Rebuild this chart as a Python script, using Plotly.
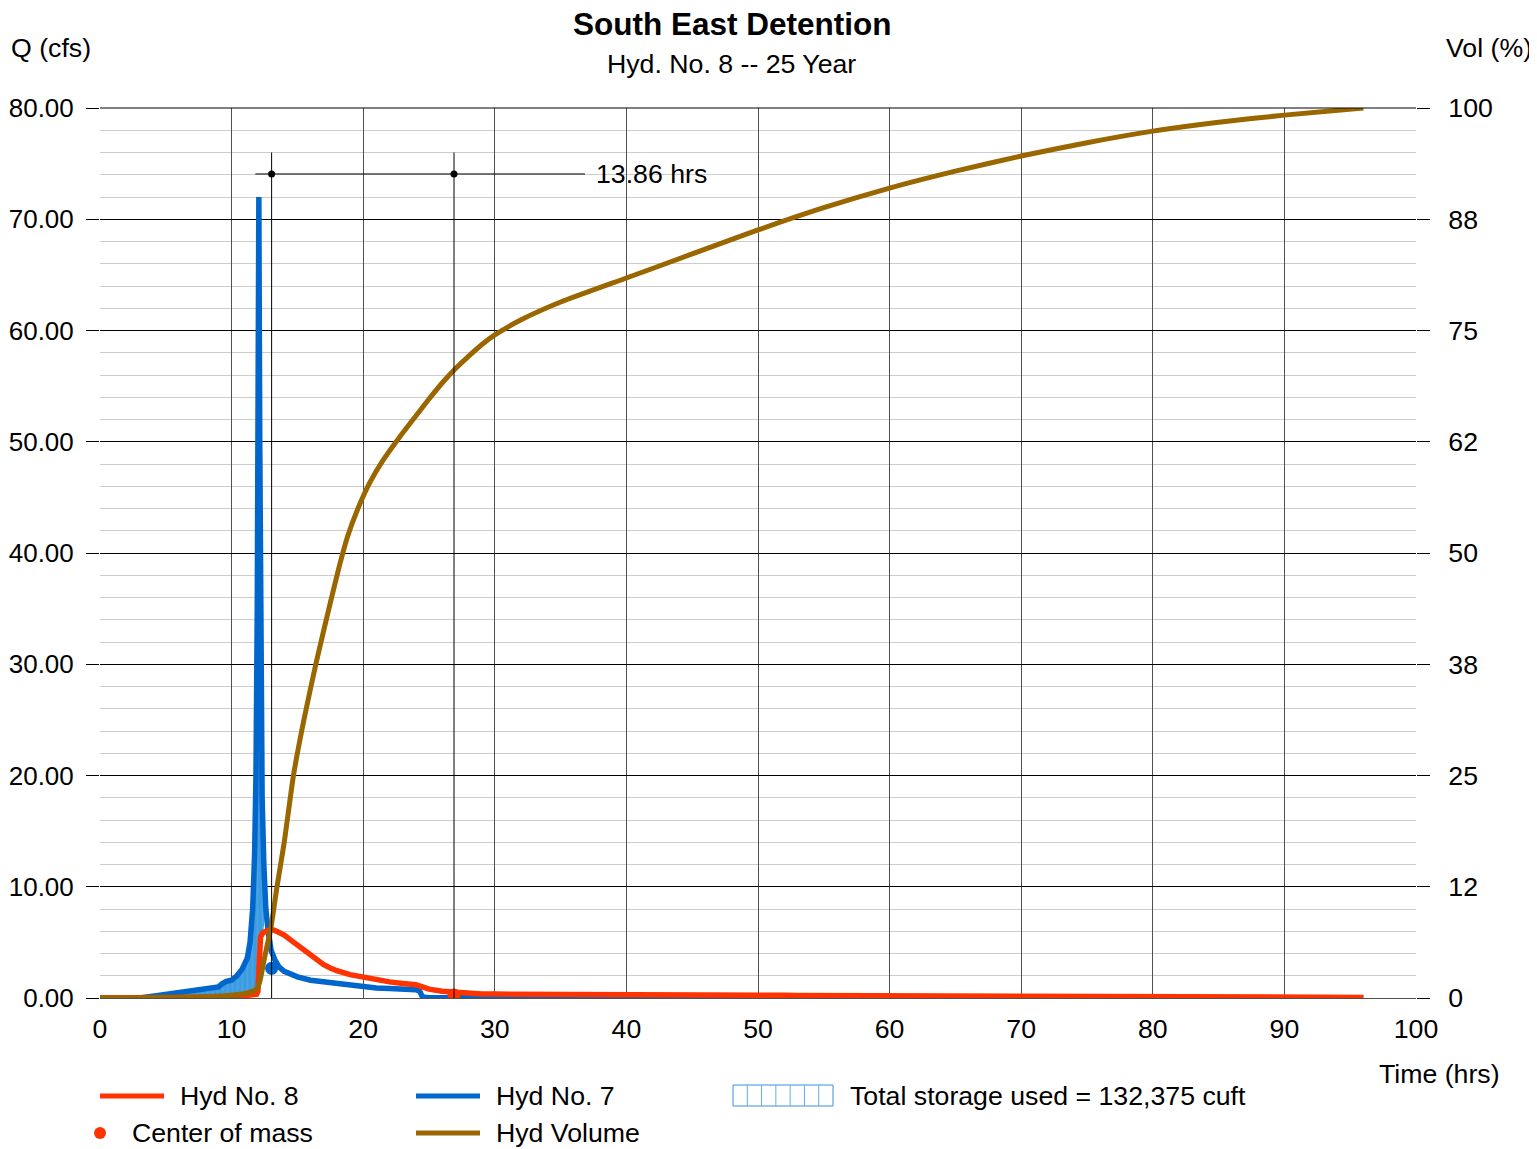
import plotly.graph_objects as go

# ---------------- data ----------------
hyd7_t = [0, 3, 4, 5, 6, 7, 8, 9, 9.3, 9.6, 10, 10.4, 10.8, 11.2, 11.4, 11.6, 11.75, 11.85, 11.95,
          12.07, 12.14, 12.22, 12.32, 12.45, 12.6, 12.8, 13.0, 13.3, 13.6, 14, 14.5, 15, 16, 17, 18,
          19, 20, 21, 22, 23, 24, 24.3, 24.5, 25, 96]
hyd7_q = [0, 0, 0.15, 0.3, 0.45, 0.6, 0.8, 1.0, 1.3, 1.5, 1.6, 2.0, 2.6, 3.6, 5.0, 8.0, 13.0, 20.0, 35.0,
          72.0, 50.0, 30.0, 18.0, 12.0, 8.0, 5.8, 4.3, 3.4, 2.8, 2.4, 2.1, 1.9, 1.6, 1.45, 1.3,
          1.15, 1.0, 0.9, 0.85, 0.8, 0.75, 0.6, 0.1, 0.03, 0.02]

hyd8_t = [0, 8, 10, 11, 11.9, 12.0, 12.1, 12.2, 12.4, 12.8, 13.0, 13.5, 14, 14.5, 15, 15.5, 16, 16.5,
          17, 17.5, 18, 19, 20, 21, 22, 23, 24, 24.5, 25, 26, 27, 28, 29, 30, 40, 41, 52, 53, 76, 77,
          88, 89, 96]
hyd8_q = [0, 0.02, 0.1, 0.2, 0.35, 0.6, 3.5, 5.5, 5.9, 6.15, 6.2, 5.95, 5.65, 5.2, 4.75, 4.25, 3.8, 3.4,
          3.0, 2.7, 2.45, 2.1, 1.85, 1.65, 1.45, 1.3, 1.2, 1.0, 0.8, 0.6, 0.5, 0.4, 0.36, 0.35, 0.35, 0.25,
          0.25, 0.22, 0.2, 0.15, 0.12, 0.08, 0.05]

vol_t = [0, 5, 8, 10, 11, 11.8, 12.0, 12.2, 12.5, 13, 13.45, 14, 14.7, 15.5, 16.4, 17, 17.5, 18.2,
         18.8, 19.6, 20.5, 21.5, 22.8, 24, 25, 26, 27, 28, 29, 30, 32, 35, 40, 45, 50, 55, 60, 65, 70, 75,
         80, 85, 90, 96]
vol_pct = [0, 0.05, 0.15, 0.3, 0.5, 0.9, 1.2, 2.2, 4.5, 8, 12.5, 17.5, 25, 31.3, 37.5, 41.3, 44.4, 48.6,
           51.8, 55.0, 57.9, 60.4, 63.1, 65.4, 67.3, 69.1, 70.7, 72.1, 73.4, 74.5, 76.2, 78.2, 80.9, 83.6,
           86.3, 88.8, 91.0, 92.9, 94.6, 96.1, 97.4, 98.4, 99.2, 100]

storage_end = 12.6  # hrs where inflow drops below outflow
com_hyd7 = (13.04, 2.67)
com_hyd8 = (26.90, 0.27)
marker_y = 74.07
marker_top = 76.0

x_ticks = list(range(0, 101, 10))
q_ticks = list(range(0, 81, 10))
vol_ticks = [0, 12.5, 25, 37.5, 50, 62.5, 75, 87.5, 100]
vol_tick_text = ["0", "12", "25", "38", "50", "62", "75", "88", "100"]

title = "South East Detention"
subtitle = "Hyd. No. 8 -- 25 Year"
storage_text = "Total storage used = 132,375 cuft"

# ---------------- styling ----------------
FONT = "Liberation Sans, Arial, sans-serif"
FS = 26.7
RED = "#ff3300"
BLUE = "#0066cc"
BROWN = "#996600"
FILL = "#3d9be0"

OFF = 8  # page body margin
W, H = 1537 - OFF, 1149 - OFF
L, R, T, B = 100, 1416, 108, 998  # reference pixel positions of plot area


def px(p):
    return (p - L) / (R - L)


def py(p):
    return (B - p) / (B - T)


fig = go.Figure()

# storage fill polygon (inflow above outflow)
fx = [t for t in hyd7_t if t <= storage_end]
fy = [q for t, q in zip(hyd7_t, hyd7_q) if t <= storage_end]
rx = [t for t in hyd8_t if t <= storage_end][::-1]
ry = [q for t, q in zip(hyd8_t, hyd8_q) if t <= storage_end][::-1]
fig.add_trace(go.Scatter(x=fx + rx, y=fy + ry, mode="lines", fill="toself",
                         fillcolor=FILL, line=dict(width=0), showlegend=False, hoverinfo="skip",
                         fillpattern=dict(shape="|", bgcolor=FILL, fgcolor="#5aaeea", size=5, solidity=0.3)))

fig.add_trace(go.Scatter(x=hyd7_t, y=hyd7_q, mode="lines", line=dict(color=BLUE, width=5.5),
                         showlegend=False))
fig.add_trace(go.Scatter(x=hyd8_t, y=hyd8_q, mode="lines", line=dict(color=RED, width=5.5),
                         showlegend=False))
fig.add_trace(go.Scatter(x=vol_t, y=vol_pct, mode="lines",
                         line=dict(color=BROWN, width=5, shape="spline", smoothing=0.5),
                         yaxis="y2", showlegend=False))

# centers of mass
fig.add_trace(go.Scatter(x=[com_hyd7[0]], y=[com_hyd7[1]], mode="markers",
                         marker=dict(color=BLUE, size=13), showlegend=False))
fig.add_trace(go.Scatter(x=[com_hyd8[0]], y=[com_hyd8[1]], mode="markers",
                         marker=dict(color=RED, size=13), showlegend=False))

# time-lag dimension
fig.add_shape(type="line", x0=com_hyd7[0], x1=com_hyd7[0], y0=0, y1=marker_top,
              line=dict(color="black", width=1))
fig.add_shape(type="line", x0=com_hyd8[0], x1=com_hyd8[0], y0=0, y1=marker_top,
              line=dict(color="black", width=1))
fig.add_shape(type="line", x0=11.8, x1=36.85, y0=marker_y, y1=marker_y,
              line=dict(color="black", width=1))
fig.add_trace(go.Scatter(x=[com_hyd7[0], com_hyd8[0]], y=[marker_y, marker_y], mode="markers",
                         marker=dict(color="black", size=7), showlegend=False))
fig.add_annotation(x=37.55, y=marker_y, xref="x", yref="y", xanchor="left", yanchor="middle",
                   text=f"{com_hyd8[0] - com_hyd7[0]:.2f} hrs", showarrow=False,
                   font=dict(family=FONT, size=FS, color="black"))


# titles & axis captions
def text(x, y, s, anchor="left", size=FS, bold=False, height=None):
    fig.add_annotation(x=px(x), y=py(y), xref="paper", yref="paper", xanchor=anchor,
                       yanchor="middle", showarrow=False, height=height, valign="middle",
                       text=f"<b>{s}</b>" if bold else s,
                       font=dict(family=FONT, size=size, color="black"))


text(732, 24, title, "center", 31.5, True, height=30)
text(731, 64, subtitle, "center")
text(9, 48, "Q (cfs)")
text(1534, 48, "Vol (%)", "right")
text(1502, 1074, "Time (hrs)", "right")


# custom legend
def lline(x0, x1, y, color):
    fig.add_shape(type="line", xref="paper", yref="paper", x0=px(x0), x1=px(x1), y0=py(y), y1=py(y),
                  line=dict(color=color, width=5))


lline(100, 164, 1096, RED)
text(178, 1096, "Hyd No. 8")
fig.add_shape(type="circle", xref="paper", yref="paper", x0=px(94), x1=px(106), y0=py(1127), y1=py(1139),
              fillcolor=RED, line=dict(width=0))
text(130, 1133, "Center of mass")
lline(416, 480, 1096, BLUE)
text(494, 1096, "Hyd No. 7")
lline(416, 480, 1133, BROWN)
text(494, 1133, "Hyd Volume")
fig.add_shape(type="rect", xref="paper", yref="paper", x0=px(733), x1=px(833), y0=py(1106), y1=py(1085),
              line=dict(color="#3d8fd6", width=1), fillcolor="white")
for i in range(1, 7):
    xx = 733 + i * 100 / 7
    fig.add_shape(type="line", xref="paper", yref="paper", x0=px(xx), x1=px(xx), y0=py(1106), y1=py(1085),
                  line=dict(color="#5aaeea", width=1))
text(848, 1096, storage_text)

fig.update_layout(
    width=W, height=H,
    margin=dict(l=L - OFF, r=1537 - R, t=T - OFF, b=1149 - B, pad=0, autoexpand=False),
    plot_bgcolor="white", paper_bgcolor="white",
    font=dict(family=FONT, size=FS, color="black"),
    xaxis=dict(range=[0, 100], tickvals=x_ticks, showgrid=True, gridcolor="#505050", gridwidth=1,
               zeroline=False, ticks="", showline=True, linecolor="#505050", mirror=False,
               tickfont=dict(family=FONT, size=FS), ticklabelstandoff=7, automargin=False),
    yaxis=dict(range=[0, 80], tickvals=q_ticks, tickformat=".2f", showgrid=True, gridcolor="black",
               gridwidth=1, zeroline=False, ticks="outside", ticklen=13, tickcolor="black",
               showline=False, tickfont=dict(family=FONT, size=26), ticklabelstandoff=7,
               automargin=False,
               minor=dict(dtick=2, showgrid=True, gridcolor="#cccccc", gridwidth=1, ticks="")),
    yaxis2=dict(range=[0, 100], overlaying="y", side="right", tickvals=vol_ticks, ticktext=vol_tick_text,
                showgrid=False, zeroline=False, ticks="outside", ticklen=13, tickcolor="black",
                showline=False, tickfont=dict(family=FONT, size=FS), ticklabelstandoff=13,
                automargin=False),
    showlegend=False,
)
fig.add_shape(type="line", xref="paper", yref="paper", x0=0, x1=1, y0=1, y1=1,
              line=dict(color="black", width=1))

fig.write_html("out.html")
